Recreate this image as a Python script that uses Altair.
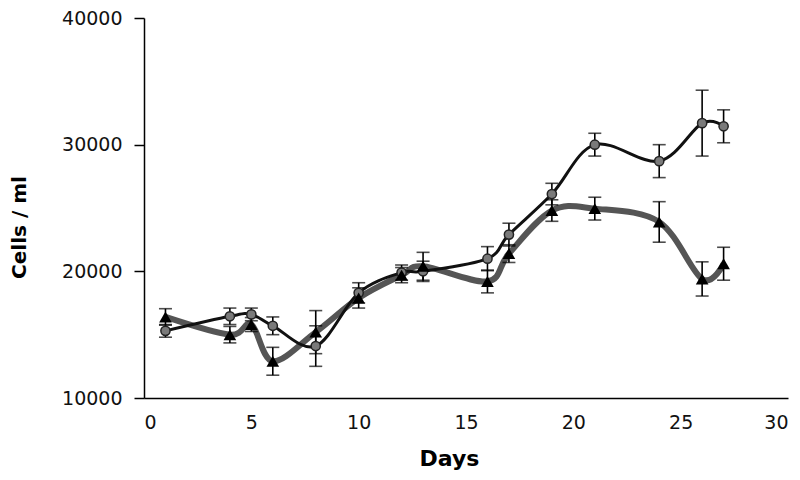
import altair as alt
import pandas as pd

days = [1, 4, 5, 6, 8, 10, 12, 13, 16, 17, 19, 21, 24, 26, 27]
circle_mean = [15300, 16450, 16600, 15700, 14100, 18300, 19900, 20000, 21000, 22900, 26100, 30000, 28700, 31700, 31450]
circle_err = [500, 650, 500, 700, 1600, 800, 600, 800, 950, 900, 850, 900, 1300, 2600, 1300]
tri_mean = [16400, 15000, 15800, 12900, 15200, 17900, 19700, 20400, 19200, 21400, 24800, 24950, 23900, 19400, 20600]
tri_err = [650, 650, 550, 1100, 1700, 800, 600, 1100, 900, 700, 850, 900, 1600, 1350, 1300]

circ = pd.DataFrame({"day": days, "v": circle_mean, "lo": [m - e for m, e in zip(circle_mean, circle_err)],
                     "hi": [m + e for m, e in zip(circle_mean, circle_err)]})
tri = pd.DataFrame({"day": days, "v": tri_mean, "lo": [m - e for m, e in zip(tri_mean, tri_err)],
                    "hi": [m + e for m, e in zip(tri_mean, tri_err)]})

FONT = "DejaVu Sans"

x = alt.X("day:Q", scale=alt.Scale(domain=[0, 30], nice=False),
          axis=alt.Axis(title="Days", values=[0, 5, 10, 15, 20, 25, 30], ticks=False,
                        labelPadding=15, grid=False, titleX=305, titleY=67,
                        titleBaseline="alphabetic", titleFontSize=22))
y = alt.Y("v:Q", scale=alt.Scale(domain=[10000, 40000], nice=False),
          axis=alt.Axis(title="Cells / ml", values=[10000, 20000, 30000, 40000], format="d",
                        tickSize=10, labelPadding=12, grid=False, titleAngle=-90,
                        titleX=-125, titleY=209, titleAlign="center", titleBaseline="middle",
                        titleFontSize=20))

base_c = alt.Chart(circ)
base_t = alt.Chart(tri)

tri_line = base_t.mark_line(interpolate="cardinal", color="#555555", strokeWidth=6).encode(x=x, y=y)
circ_line = base_c.mark_line(interpolate="cardinal", color="#111111", strokeWidth=3).encode(x=x, y=y)

def errbars(base):
    rule = base.mark_rule(color="black", strokeWidth=1.6).encode(x="day:Q", y="lo:Q", y2="hi:Q")
    cap_lo = base.mark_tick(color="black", orient="horizontal", size=13, thickness=1.6).encode(x="day:Q", y="lo:Q")
    cap_hi = base.mark_tick(color="black", orient="horizontal", size=13, thickness=1.6).encode(x="day:Q", y="hi:Q")
    return rule + cap_lo + cap_hi

circ_pts = base_c.mark_point(shape="circle", filled=True, size=85, color="#7a7a7a",
                             stroke="#222222", strokeWidth=1.5, opacity=1).encode(x="day:Q", y="v:Q")
tri_pts = base_t.mark_point(shape="triangle-up", filled=True, size=160, color="black",
                            opacity=1).encode(x="day:Q", y="v:Q")

chart = alt.layer(tri_line, circ_line, errbars(base_t), errbars(base_c), circ_pts, tri_pts).properties(
    width=644, height=380,
    autosize=alt.AutoSizeParams(type="none"),
    padding={"left": 136, "top": 10, "right": 4, "bottom": 74},
).configure_view(stroke=None).configure_axis(
    labelFont=FONT, titleFont=FONT, labelFontSize=19, labelColor="#111111",
    titleFontWeight="bold", titleColor="black",
    domainColor="black", domainWidth=1.5, tickColor="black", tickWidth=1.5,
)

chart.save("out.html", embed_options={"renderer": "svg", "actions": False})
